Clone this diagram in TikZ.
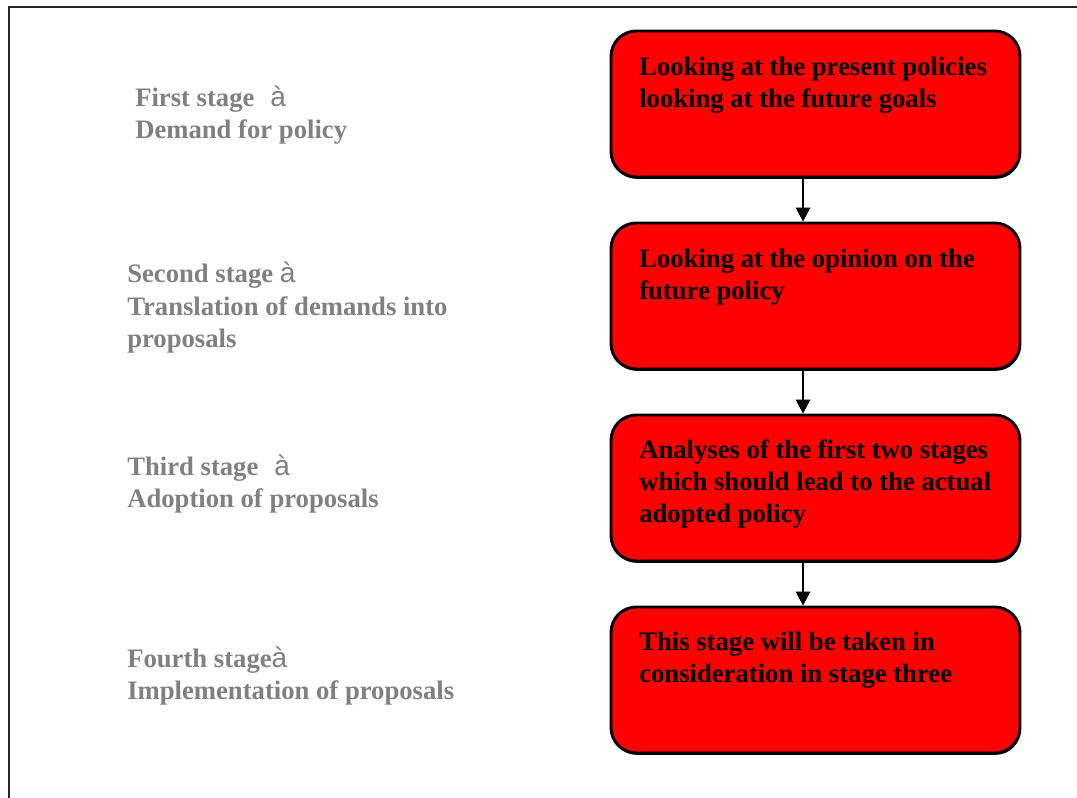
\documentclass[tikz,border=0pt]{standalone}
\usepackage{fontspec}
\setmainfont{Liberation Serif}
\newfontfamily\arrowfont{Liberation Sans}
\usetikzlibrary{arrows.meta,
                positioning,
                shadows
            }
\definecolor{stagegrey}{HTML}{808080}
\definecolor{boxred}{HTML}{FF0000}
\newcommand{\stagearrow}{{\arrowfont\mdseries\fontsize{21}{24}\selectfont à}}

\begin{document}
\begin{tikzpicture}[x=0.75pt, y=-0.75pt,
        stagebox/.style={draw, line width=2.2pt, fill=boxred, rounded corners=19pt,
            minimum width=306.75pt, minimum height=109.5pt, inner sep=0pt,
            drop shadow={shadow xshift=0.6pt, shadow yshift=-1.4pt, fill=black, opacity=1}},
        boxtext/.style={anchor=base west, align=left, inner sep=0pt,
            font=\bfseries\fontsize{20}{24}\selectfont},
        stagetext/.style={boxtext, text=stagegrey},
        flow/.style={-{Triangle[width=11pt, length=10.5pt]}, line width=1.1pt}
    ]
            \useasboundingbox (0, 0) rectangle (1077, 798);
            % frame round the page
            \draw[line width=1.5pt, black!85] (9, 798) -- (9, 7) -- (1077, 7);

            % stages on the left (placed at the baseline of their last line)
            \node[stagetext] (s1) at (135, 139) {First stage\hspace{12pt}\stagearrow\\Demand for policy};
            \node[stagetext] (s2) at (127, 347) {Second stage \stagearrow\\Translation of demands into\\proposals};
            \node[stagetext] (s3) at (127, 507) {Third stage\hspace{12pt}\stagearrow\\Adoption of proposals};
            \node[stagetext] (s4) at (127, 699) {Fourth stage\stagearrow\\Implementation of proposals};

            % boxes on the right
            \node[stagebox] (b1) at (815.5, 104) {};
            \node[stagebox] (b2) at (815.5, 296) {};
            \node[stagebox] (b3) at (815.5, 488) {};
            \node[stagebox] (b4) at (815.5, 680) {};

            \node[boxtext] (t1) at (639, 108) {Looking at the present policies\\looking at the future goals};
            \node[boxtext] (t2) at (639, 300) {Looking at the opinion on the\\future policy};
            \node[boxtext] (t3) at (639, 522) {Analyses of the first two stages\\which should lead to the actual\\adopted policy};
            \node[boxtext] (t4) at (639, 682) {This stage will be taken in\\consideration in stage three};

            % arrows between the boxes
            \coordinate (ax) at (803, 0);
            \draw[flow] (b1.south -| ax) -- (b2.north -| ax);
            \draw[flow] (b2.south -| ax) -- (b3.north -| ax);
            \draw[flow] (b3.south -| ax) -- (b4.north -| ax);
        \end{tikzpicture}
\end{document}
